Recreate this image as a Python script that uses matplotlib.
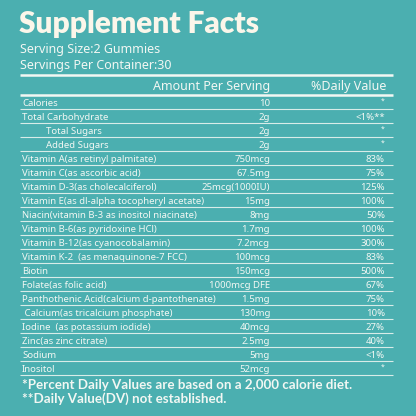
import matplotlib.pyplot as plt

# label data
nutrients = [
    "Calories", "Total Carbohydrate", "Total Sugars", "Added Sugars",
    "Vitamin A(as retinyl palmitate)", "Vitamin C(as ascorbic acid)",
    "Vitamin D-3(as cholecalciferol)", "Vitamin E(as dl-alpha tocopheryl acetate)",
    "Niacin(vitamin B-3 as inositol niacinate)", "Vitamin B-6(as pyridoxine HCl)",
    "Vitamin B-12(as cyanocobalamin)", "Vitamin K-2  (as menaquinone-7 FCC)",
    "Biotin", "Folate(as folic acid)", "Panthothenic Acid(calcium d-pantothenate)",
    " Calcium(as tricalcium phosphate)", "Iodine  (as potassium iodide)",
    "Zinc(as zinc citrate)", "Sodium", "Inositol",
]
amounts = [
    "10", "2g", "2g", "2g", "750mcg", "67.5mg", "25mcg(1000IU)", "15mg", "8mg",
    "1.7mg", "7.2mcg", "100mcg", "150mcg", "1000mcg DFE", "1.5mg", "130mg",
    "40mcg", "2.5mg", "5mg", "52mcg",
]
daily_values = [
    "*", "<1%**", "*", "*", "83%", "75%", "125%", "100%", "50%", "100%",
    "300%", "83%", "500%", "67%", "75%", "10%", "27%", "40%", "<1%", "*",
]
indented = ["Total Sugars", "Added Sugars"]

title = "Supplement Facts"
serving_lines = ["Serving Size:2 Gummies", "Servings Per Container:30"]
headers = ["Amount Per Serving", "%Daily Value"]
footnotes = [
    "*Percent Daily Values are based on a 2,000 calorie diet.",
    "**Daily Value(DV) not established.",
]

bg = "#4bafb0"
fg = "#f2f7f3"
cream = "#fbf6ea"
font = ["Noto Sans", "DejaVu Sans"]

fig = plt.figure(figsize=(4.16, 4.16), dpi=100, facecolor=bg)
ax = fig.add_axes([0, 0, 1, 1])
ax.set_facecolor(bg)
ax.set_xlim(0, 416)
ax.set_ylim(416, 0)
ax.axis("off")

ax.text(19, 33, title, fontsize=21.5, fontweight="heavy", color=cream,
        family=["Lato", "DejaVu Sans"], va="baseline")
for i, line in enumerate(serving_lines):
    ax.text(20, 49.5 + 15.5 * i, line, fontsize=9.0, color=fg, family=font, va="center")

x0, x1 = 19.5, 393
ax.plot([x0, x1], [75, 75], color=fg, lw=1.8, solid_capstyle="butt")
ax.text(270, 86.5, headers[0], fontsize=9.0, color=fg, family=font, va="center", ha="right")
ax.text(386, 86.5, headers[1], fontsize=9.0, color=fg, family=font, va="center", ha="right")
ax.plot([x0, x1], [94.5, 94.5], color=fg, lw=1.8, solid_capstyle="butt")

top = 95.3
for i, (name, amt, dv) in enumerate(zip(nutrients, amounts, daily_values)):
    yc = top + 14 * i + 7.8
    xl = 46 if name in indented else 22
    ax.text(xl, yc, name, fontsize=6.9, color=fg, family=font, va="center")
    ax.text(270, yc, amt, fontsize=6.9, color=fg, family=font, va="center", ha="right")
    if dv.startswith("*"):
        ax.text(385, yc - 1.5, dv, fontsize=5, color=fg, family=font, va="center", ha="right")
    else:
        ax.text(385, yc, dv, fontsize=6.9, color=fg, family=font, va="center", ha="right")
    ax.plot([x0, x1], [top + 14 * (i + 1)] * 2, color=fg, lw=0.8, alpha=0.85,
            solid_capstyle="butt")

for i, note in enumerate(footnotes):
    ax.text(22, 385 + 14 * i, note, fontsize=9.6, fontweight="bold", color=fg,
            family=["Lato", "DejaVu Sans"], va="center")

fig.savefig("out.png", dpi=100, facecolor=bg)
